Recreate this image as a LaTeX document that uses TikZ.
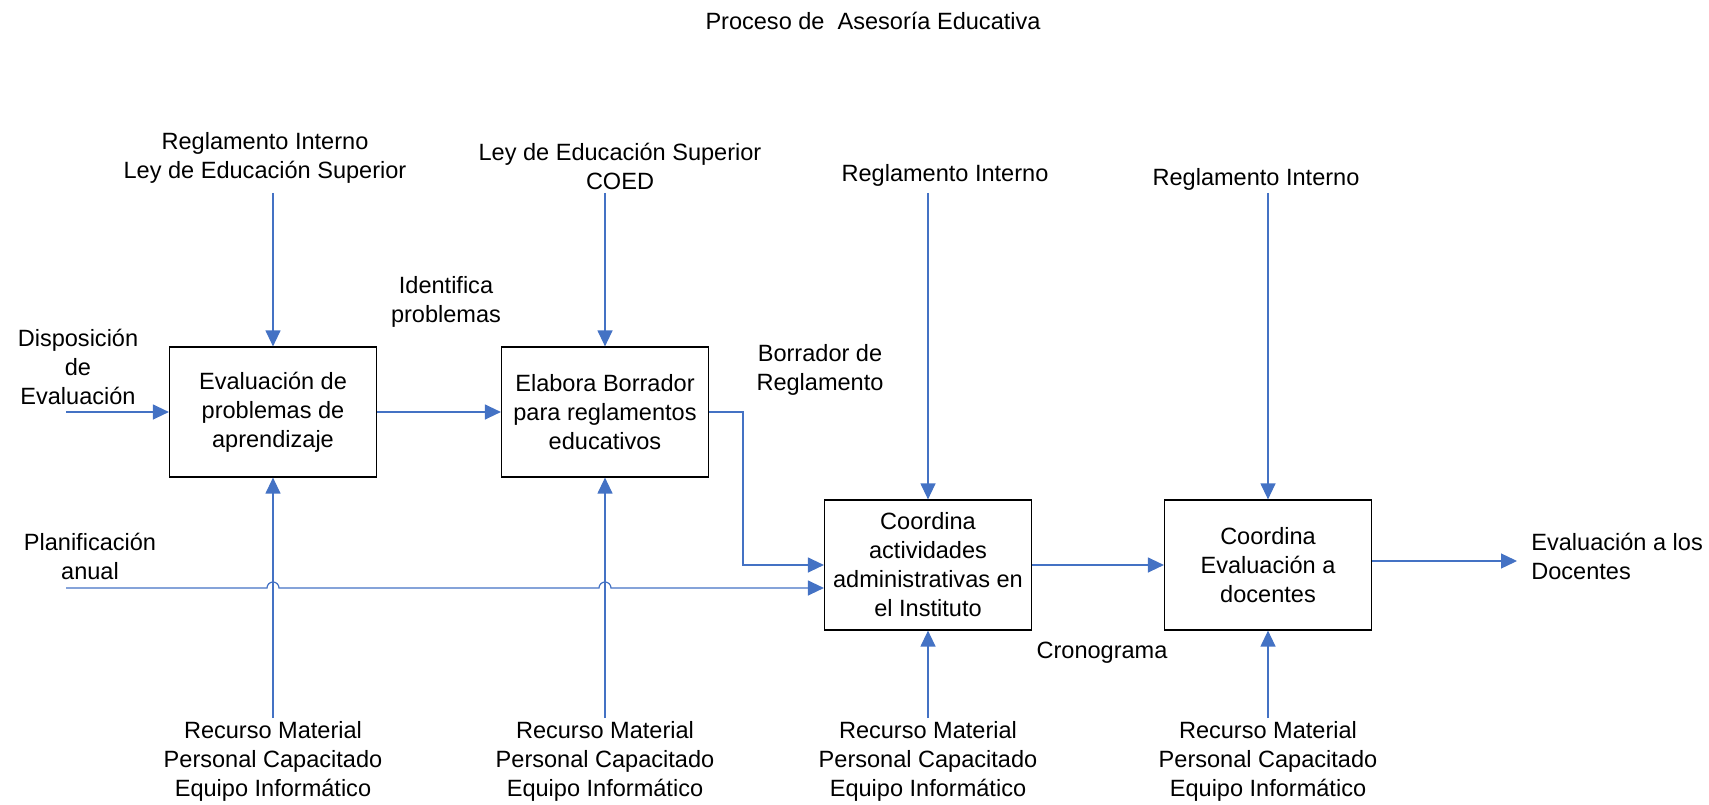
\documentclass[tikz,border=0pt]{standalone}
\usepackage{fontspec}
\setmainfont{Liberation Sans}
\usepackage{xcolor}
\usetikzlibrary{arrows.meta, calc}
\definecolor{flujo}{HTML}{4472C4}

\begin{document}
\begin{tikzpicture}[x=0.02cm, y=-0.02cm, font=\fontsize{13.4}{16.5}\selectfont,
    proceso/.style={draw, line width=0.7pt, minimum width=4.14cm, minimum height=2.6cm, align=center, inner sep=0pt},
    etiqueta/.style={align=center, inner sep=0pt},
    flecha/.style={draw=flujo, line width=0.7pt, -{Triangle[length=0.32cm, width=0.3cm]}}]
          \useasboundingbox (0,0) rectangle (1709,804);
          \node[etiqueta] (titulo) at (873,21) {Proceso de\ \ Asesoría Educativa};

          % Procesos
          \node[proceso] (a) at (273,412) {Evaluación de\\problemas de\\aprendizaje};
          \node[proceso] (b) at (605,412) {Elabora Borrador\\para reglamentos\\educativos};
          \node[proceso] (c) at (928,565) {Coordina\\actividades\\administrativas en\\el Instituto};
          \node[proceso] (d) at (1268,565) {Coordina\\Evaluación a\\docentes};

          % Controles
          \node[etiqueta] (t1) at (265,158) {Reglamento Interno\\Ley de Educación Superior};
          \node[etiqueta] (t2) at (620,166) {Ley de Educación Superior\\COED};
          \node[etiqueta] (t3) at (945,175) {Reglamento Interno};
          \node[etiqueta] (t4) at (1256,179) {Reglamento Interno};
          \coordinate (c1) at (273,193);
          \coordinate (c2) at (605,193);
          \coordinate (c3) at (928,193);
          \coordinate (c4) at (1268,193);
          \draw[flecha] (c1) -- (a.north);
          \draw[flecha] (c2) -- (b.north);
          \draw[flecha] (c3) -- (c.north);
          \draw[flecha] (c4) -- (d.north);

          % Mecanismos
          \node[etiqueta] (m1) at (273,761) {Recurso Material\\Personal Capacitado\\Equipo Informático};
          \node[etiqueta] (m2) at (605,761) {Recurso Material\\Personal Capacitado\\Equipo Informático};
          \node[etiqueta] (m3) at (928,761) {Recurso Material\\Personal Capacitado\\Equipo Informático};
          \node[etiqueta] (m4) at (1268,761) {Recurso Material\\Personal Capacitado\\Equipo Informático};
          \draw[flecha] (m1.north |- 0,718) -- (a.south);
          \draw[flecha] (m2.north |- 0,718) -- (b.south);
          \draw[flecha] (m3.north |- 0,718) -- (c.south);
          \draw[flecha] (m4.north |- 0,718) -- (d.south);

          % Entradas y salidas
          \node[etiqueta] (disp) at (78,367) {Disposición\\de\\Evaluación};
          \node[etiqueta] (plan) at (90,556) {Planificación\\anual};
          \node[etiqueta] (iden) at (446,302) {Identifica\\problemas};
          \node[etiqueta] (borr) at (820,370) {Borrador de\\Reglamento};
          \node[etiqueta] (cron) at (1102,653) {Cronograma};
          \node[etiqueta, align=left, anchor=west] (eval) at (1531,556) {Evaluación a los\\Docentes};
          \coordinate (in1) at (66,412);
          \coordinate (in2) at (66,588);
          \coordinate (out) at (1517,561);
          \draw[flecha] (in1) -- (a.west);
          \draw[flecha] (a.east) -- (b.west);
          \draw[flecha] (b.east) -- ++(34,0) |- (c.west);
          \draw[flecha] (in2) -- ($(a.south |- in2)-(6,0)$) arc[start angle=180, end angle=0, radius=0.12cm]
            -- ($(b.south |- in2)-(6,0)$) arc[start angle=180, end angle=0, radius=0.12cm]
            -- (c.west |- in2);
          \draw[flecha] (c.east) -- (d.west);
          \draw[flecha] (d.east |- out) -- (out);
        \end{tikzpicture}
\end{document}
